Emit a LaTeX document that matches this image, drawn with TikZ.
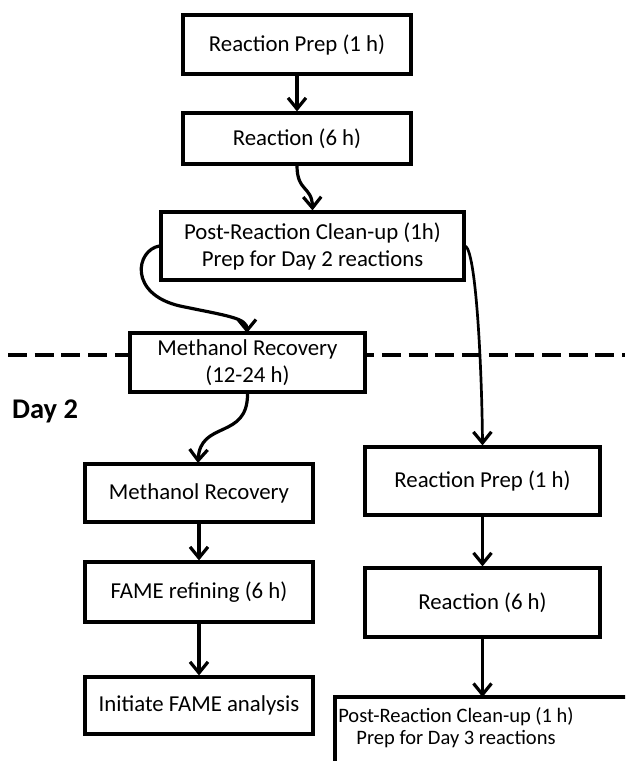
\documentclass[tikz,border=0pt]{standalone}
\usepackage{fontspec}
\setmainfont{Carlito}
\usetikzlibrary{arrows.meta}
\tikzset{
  box/.style={draw, line width=3.2pt, fill=white, inner sep=0pt, align=center,
    font=\fontsize{22.8}{27}\selectfont},
  conn/.style={line width=3.2pt, -{Straight Barb[length=11pt,width=18pt,line width=3.2pt]}},
}
\begin{document}
\begin{tikzpicture}[x=1pt,y=-1pt]
\useasboundingbox (0,0) rectangle (625,761);
\clip (0,0) rectangle (625,761);
% dashed day separator
\coordinate (dl) at (8,355);
\coordinate (dr) at (625,355);
\draw[line width=4.2pt, dash pattern=on 19pt off 7.7pt] (dl) -- (dr);
% boxes
\node[box, minimum width=228pt, minimum height=59pt] (b1) at (297,44.5) {Reaction Prep (1 h)};
\node[box, minimum width=228pt, minimum height=51pt] (b2) at (297,138.5) {Reaction (6 h)};
\node[box, minimum width=303pt, minimum height=68pt] (b3) at (312.5,246) {Post-Reaction Clean-up (1h)\\Prep for Day 2 reactions};
\node[box, minimum width=235pt, minimum height=59pt] (m1) at (247.5,362.5) {Methanol Recovery\\(12-24 h)};
\node[font=\bfseries\fontsize{28.5}{30}\selectfont, anchor=base west, inner sep=0pt] (day) at (12,418) {Day 2};
\node[box, minimum width=228pt, minimum height=58pt] (m2) at (199,493) {Methanol Recovery};
\node[box, minimum width=228pt, minimum height=60pt] (f) at (199,592) {FAME refining (6 h)};
\node[box, minimum width=228pt, minimum height=57pt] (i) at (199,705.5) {Initiate FAME analysis};
\node[box, minimum width=235pt, minimum height=68pt] (rp) at (482.5,481) {Reaction Prep (1 h)};
\node[box, minimum width=235pt, minimum height=69pt] (r) at (482.5,602.5) {Reaction (6 h)};
% partially visible last box
\node[box, draw=none, fill=none, font=\fontsize{20.5}{22}\selectfont] (pc) at (456,727.5) {Post-Reaction Clean-up (1 h)\\Prep for Day 3 reactions};
\coordinate (pcbl) at (335,780);
\coordinate (pctl) at (335,697);
\coordinate (pctr) at (640,697);
\draw[line width=3.2pt] (pcbl) -- (pctl) -- (pctr);
\coordinate (pctop) at (482.5,697);
% connectors
\draw[conn] (b1.south) -- (b2.south |- b2.north);
\draw[conn] (b2.south) .. controls (297,192) and (312,186) .. ([xshift=15.5pt]b2.south |- b3.north);
\draw[conn] (b3.west) .. controls (136,250) and (128,294) .. (180,306)
  .. controls (228,316) and (247,318) .. (247,333);
\draw[conn, line width=2.7pt] (b3.east) .. controls (477,255) and (482,380) .. (rp.north);
\draw[conn] (m1.south) .. controls (248,440) and (200,420) .. (198,463);
\draw[conn] (m2.south) -- (f.north);
\draw[conn] (f.south) -- (i.north);
\draw[conn] (rp.south) -- (r.north);
\draw[conn] (r.south) -- (pctop);
\end{tikzpicture}
\end{document}
